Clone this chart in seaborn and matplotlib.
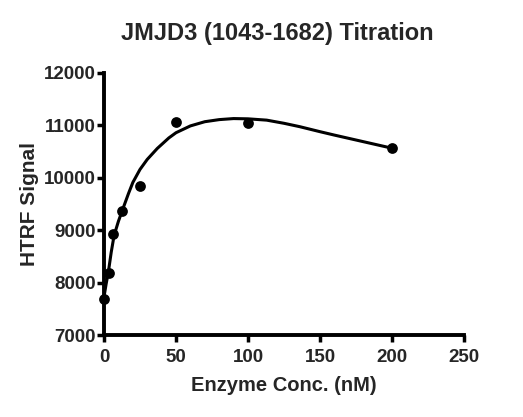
import numpy as np
import pandas as pd
import matplotlib
matplotlib.use("Agg")
import matplotlib.pyplot as plt
import seaborn as sns

conc_nM = [0, 3.125, 6.25, 12.5, 25, 50, 100, 200]
htrf_signal = [7693, 8177, 8927, 9366, 9849, 11065, 11046, 10569]

# fitted curve
curve_x = [0, 1.5, 3, 5, 7, 10, 13, 17, 20, 25, 30, 37, 45, 50, 60, 70, 80,
           90, 100, 113, 125, 136, 150, 160, 180, 200]
curve_y = [7730, 7980, 8200, 8580, 8900, 9170, 9400, 9700, 9910, 10160, 10350,
           10560, 10760, 10860, 10990, 11070, 11110, 11130, 11125, 11100, 11040,
           10975, 10880, 10815, 10690, 10565]

x_ticks = [0, 50, 100, 150, 200, 250]
y_ticks = [7000, 8000, 9000, 10000, 11000, 12000]

pts = pd.DataFrame({"conc": conc_nM, "signal": htrf_signal})
fit = pd.DataFrame({"conc": curve_x, "signal": curve_y})

sns.set_theme(style="ticks")
plt.rcParams['font.family'] = ['Liberation Sans', 'DejaVu Sans']
plt.rcParams['font.weight'] = 'bold'

fig = plt.figure(figsize=(5.23, 4.17), dpi=100)
ax = fig.add_axes([0.1989, 0.1966, 0.887 - 0.1989, 0.825 - 0.1966])

sns.lineplot(data=fit, x="conc", y="signal", ax=ax, color="black", lw=2.2,
             sort=False, estimator=None)
sns.scatterplot(data=pts, x="conc", y="signal", ax=ax, color="black", s=60,
                edgecolor="black", linewidth=0, clip_on=False, zorder=5)

ax.set_xlim(0, 250)
ax.set_ylim(7000, 12000)
ax.set_xticks(x_ticks)
ax.set_yticks(y_ticks)
ax.tick_params(axis='both', which='major', labelsize=13.5, width=2.5, length=5,
               color='black')
ax.tick_params(axis='y', pad=1)
ax.tick_params(axis='x', pad=5)
for lab in ax.get_xticklabels() + ax.get_yticklabels():
    lab.set_fontweight('bold')

for side in ['left', 'bottom']:
    ax.spines[side].set_linewidth(2.8)
    ax.spines[side].set_color('black')
sns.despine(ax=ax)

ax.set_xlabel('Enzyme Conc. (nM)', fontsize=14.5, fontweight='bold')
ax.set_ylabel('HTRF Signal', fontsize=15, fontweight='bold')
ax.yaxis.set_label_coords(-0.18, 0.5)
ax.xaxis.set_label_coords(0.5, -0.155)
fig.text(0.53, 0.92, 'JMJD3 (1043-1682) Titration', ha='center', va='center',
         fontsize=17, fontweight='bold')

fig.savefig("out.png", dpi=100)
